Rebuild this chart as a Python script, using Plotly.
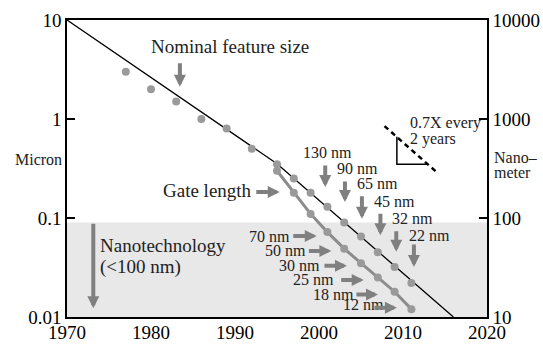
import math
import plotly.graph_objects as go

# ---------------- data ----------------
nominal_years = [1977, 1980, 1983, 1986, 1989, 1992, 1995, 1997, 1999, 2001, 2003, 2005, 2007, 2009, 2011]
nominal_um = [3.0, 2.0, 1.5, 1.0, 0.8, 0.5, 0.35, 0.25, 0.18, 0.13, 0.09, 0.065, 0.045, 0.032, 0.022]

gate_years = [1995, 1997, 1999, 2001, 2003, 2005, 2007, 2009, 2011]
gate_um = [0.30, 0.18, 0.11, 0.072, 0.049, 0.035, 0.025, 0.018, 0.012]

trend_years = [1970, 1995, 2016]
trend_um = [10.0, 0.353, 0.01]

nano_limit_um = 0.09

slope_years = [2007.8, 2014.1]
slope_um = [0.848, 0.286]
tri_years = [2009.27, 2009.27, 2012.96]
tri_um = [0.660, 0.350, 0.350]

x_ticks = [1970, 1980, 1990, 2000, 2010, 2020]
left_ticks = [10, 1, 0.1, 0.01]
left_labels = ["10", "1", "0.1", "0.01"]
right_ticks = [10000, 1000, 100, 10]
right_labels = ["10000", "1000", "100", "10"]

# (text, text_year, text_um, tip_year, tip_um, tail offset px)
down_labels = [
    ("130 nm", 2001.03, 0.461, 2000.74, 0.206, -23),
    ("90 nm", 2004.60, 0.318, 2003.09, 0.145, -22),
    ("65 nm", 2006.92, 0.224, 2005.11, 0.098, -24),
    ("45 nm", 2008.94, 0.146, 2007.31, 0.067, -23),
    ("32 nm", 2011.14, 0.098, 2009.20, 0.0457, -22),
    ("22 nm", 2013.20, 0.0662, 2011.30, 0.0320, -24),
]
right_labels_nm = [
    ("70 nm", 1996.52, 0.0658, 1999.73, 0.0658, -25),
    ("50 nm", 1998.42, 0.0468, 2001.47, 0.0465, -24),
    ("30 nm", 2000.08, 0.0330, 2003.33, 0.0330, -24),
    ("25 nm", 2001.75, 0.0237, 2005.32, 0.0237, -24),
    ("18 nm", 2004.13, 0.0168, 2007.02, 0.0169, -23),
    ("12 nm", 2007.69, 0.0134, 2009.28, 0.0124, -24),
]

FONT = "Liberation Serif"
TXT = "#222222"
ARROW = "#808080"
DOT = "#9a9a9a"

fig = go.Figure()

fig.add_trace(go.Scatter(x=trend_years, y=trend_um, mode="lines",
                         line=dict(color="black", width=1.3), hoverinfo="skip", showlegend=False))
fig.add_trace(go.Scatter(x=gate_years, y=gate_um, mode="lines+markers",
                         line=dict(color="#8c8c8c", width=3),
                         marker=dict(color=DOT, size=8), hoverinfo="skip", showlegend=False))
fig.add_trace(go.Scatter(x=nominal_years, y=nominal_um, mode="markers",
                         marker=dict(color=DOT, size=8), hoverinfo="skip", showlegend=False))
fig.add_trace(go.Scatter(x=slope_years, y=slope_um, mode="lines",
                         line=dict(color="black", width=2.5, dash="5px,4px"), hoverinfo="skip", showlegend=False))
fig.add_trace(go.Scatter(x=tri_years, y=tri_um, mode="lines",
                         line=dict(color="black", width=1.5), hoverinfo="skip", showlegend=False))
# nanometer axis carrier
fig.add_trace(go.Scatter(x=nominal_years, y=[v * 1000 for v in nominal_um], yaxis="y2",
                         mode="markers", marker=dict(opacity=0), hoverinfo="skip", showlegend=False))

ann = []


def text_ann(t, x, y, xanchor="center", size=16):
    ann.append(dict(x=x, y=math.log10(y), xref="x", yref="y", text=t, showarrow=False,
                    xanchor=xanchor, yanchor="middle", borderpad=0, borderwidth=0,
                    font=dict(family=FONT, size=size, color=TXT)))


def arrow_ann(x, y, ax, ay):
    ann.append(dict(x=x, y=math.log10(y), xref="x", yref="y", text="", showarrow=True,
                    arrowhead=2, arrowsize=0.6, arrowwidth=4, arrowcolor=ARROW,
                    ax=ax, ay=ay, standoff=0, font=dict(size=1)))


text_ann("Nominal feature size", 1989.38, 10 ** 0.737, "center", 19)
arrow_ann(1983.44, 10 ** 0.326, 0, -25)
text_ann("Gate length", 1991.99, 10 ** -0.727, "right", 19)
arrow_ann(1995.33, 10 ** -0.737, -25, 0)
for t, tx, ty, px, py, ay in down_labels:
    text_ann(t, tx, ty, "center", 16)
    arrow_ann(px, py, 0, ay)
for t, tx, ty, px, py, ax in right_labels_nm:
    text_ann(t, tx, ty, "right", 16)
    arrow_ann(px, py, ax, 0)
text_ann("Nanotechnology", 1973.92, 10 ** -1.273, "left", 19)
text_ann("(&lt;100 nm)", 1973.92, 10 ** -1.492, "left", 19)
arrow_ann(1973.13, 10 ** -1.912, 0, -86)
text_ann("0.7X every", 2010.87, 10 ** -0.037, "left", 16)
text_ann("2 years", 2010.87, 10 ** -0.205, "left", 16)

# axis titles
ann.append(dict(x=-0.069, y=0.529, xref="paper", yref="paper", text="Micron", showarrow=False,
                xanchor="center", yanchor="middle", font=dict(family=FONT, size=16, color=TXT)))
ann.append(dict(x=1.012, y=0.538, xref="paper", yref="paper", text="Nano–", showarrow=False,
                xanchor="left", yanchor="middle", font=dict(family=FONT, size=16, color=TXT)))
ann.append(dict(x=1.012, y=0.487, xref="paper", yref="paper", text="meter", showarrow=False,
                xanchor="left", yanchor="middle", font=dict(family=FONT, size=16, color=TXT)))

fig.update_layout(
    width=543, height=344, autosize=False,
    margin=dict(l=67, r=56, t=20, b=27, autoexpand=False),
    plot_bgcolor="white", paper_bgcolor="white",
    font=dict(family=FONT, size=19, color="black"),
    showlegend=False,
    annotations=ann,
    shapes=[dict(type="rect", xref="paper", yref="y domain", x0=0, x1=1, y0=0,
                 y1=(math.log10(nano_limit_um) + 2) / 3, fillcolor="#e8e8e8",
                 line=dict(width=0), layer="below")],
    xaxis=dict(range=[1970, 2020], tickvals=x_ticks, ticks="", showgrid=False, zeroline=False,
               showline=True, linecolor="black", linewidth=2, mirror=True, automargin=False,
               ticklabelstandoff=-3,
               tickfont=dict(family=FONT, size=19, color="black")),
    yaxis=dict(type="log", range=[-2, 1], tickvals=left_ticks, ticktext=left_labels,
               ticks="inside", ticklen=8, tickwidth=1.5, tickcolor="black", automargin=False,
               showgrid=False, zeroline=False, showline=True, linecolor="black", linewidth=1.5,
               tickfont=dict(family=FONT, size=19, color="black")),
    yaxis2=dict(type="log", range=[1, 4], overlaying="y", side="right", automargin=False,
                tickvals=right_ticks, ticktext=right_labels,
                ticks="inside", ticklen=8, tickwidth=1.5, tickcolor="black",
                showgrid=False, zeroline=False, showline=True, linecolor="black", linewidth=1.5,
                tickfont=dict(family=FONT, size=19, color="black")),
)

fig.write_html("out.html")
